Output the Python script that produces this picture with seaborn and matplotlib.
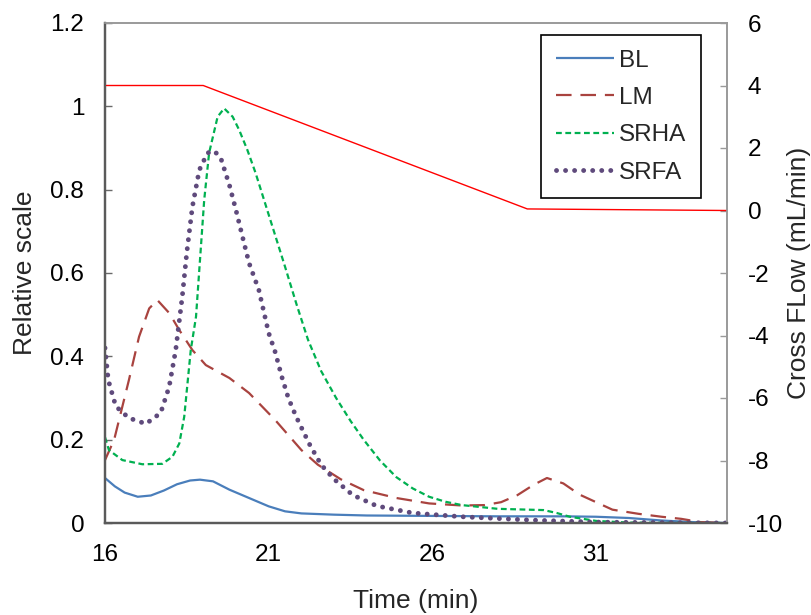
import numpy as np
import pandas as pd
import matplotlib
matplotlib.use('Agg')
import matplotlib.pyplot as plt
from matplotlib.ticker import FuncFormatter, MultipleLocator
import seaborn as sns

# BL (blue, solid)
bl_t = [16, 16.3, 16.6, 17.0, 17.4, 17.8, 18.2, 18.6, 18.9, 19.3, 19.8, 20.4,
        21.0, 21.5, 22.0, 23.0, 24.0, 26.0, 28.0, 30.0, 31.0, 32.0, 33.0, 34.0, 35.0]
bl_v = [0.108, 0.088, 0.073, 0.063, 0.066, 0.078, 0.093, 0.102, 0.104, 0.100, 0.080, 0.060,
        0.040, 0.028, 0.023, 0.020, 0.018, 0.017, 0.016, 0.016, 0.015, 0.012, 0.006, 0.002, 0.0]

# LM (brown, long dash)
lm_t = [16, 16.28, 16.73, 17.04, 17.35, 17.6, 17.96, 18.27, 18.67, 19.08, 19.8, 20.4,
        21.2, 22.0, 22.5, 23.2, 23.9, 24.9, 25.9, 26.9, 27.6, 28.1, 28.6, 29.1, 29.5,
        30.0, 30.5, 31.5, 32.3, 33.0, 33.6, 34.2, 35.0]
lm_v = [0.151, 0.2, 0.343, 0.447, 0.515, 0.535, 0.504, 0.463, 0.415, 0.379, 0.348, 0.312,
        0.247, 0.175, 0.14, 0.105, 0.079, 0.06, 0.047, 0.042, 0.043, 0.05, 0.067, 0.092, 0.108,
        0.095, 0.068, 0.032, 0.022, 0.015, 0.01, 0.002, 0.0]

# SRHA (green, short dash)
srha_t = [16, 16.12, 16.53, 17.14, 17.75, 18.06, 18.27, 18.42, 18.52, 18.62, 18.78, 18.93,
          19.03, 19.18, 19.44, 19.64, 19.9, 20.1, 20.35, 20.6, 20.8, 21.1, 21.5, 21.85, 22.2,
          22.6, 23.06, 23.5, 23.9, 24.4, 24.9, 25.4, 25.9, 26.4, 26.9, 28.0, 29.4, 29.8, 30.2,
          31.0, 32.0, 35.0]
srha_v = [0.206, 0.175, 0.151, 0.141, 0.142, 0.159, 0.191, 0.255, 0.335, 0.415, 0.495, 0.663,
          0.775, 0.888, 0.975, 0.995, 0.975, 0.943, 0.895, 0.84, 0.79, 0.715, 0.615, 0.525, 0.44,
          0.365, 0.30, 0.245, 0.20, 0.15, 0.11, 0.083, 0.063, 0.051, 0.043, 0.034, 0.031, 0.024,
          0.015, 0.005, 0.001, 0.0]

# SRFA (purple, dotted)
srfa_t = [16, 16.1, 16.33, 16.73, 17.25, 17.7, 17.96, 18.16, 18.36, 18.5, 18.67, 18.88,
          19.13, 19.34, 19.54, 19.8, 20.0, 20.2, 20.4, 20.7, 21.0, 21.2, 21.4, 21.6, 21.84,
          22.24, 22.6, 23.0, 23.57, 24.3, 25.4, 26.9, 29.0, 31.0, 35.0]
srfa_v = [0.42, 0.343, 0.28, 0.252, 0.238, 0.264, 0.327, 0.415, 0.543, 0.65, 0.759, 0.847,
          0.888, 0.893, 0.875, 0.811, 0.751, 0.687, 0.624, 0.559, 0.456, 0.41, 0.351, 0.30, 0.255,
          0.19, 0.14, 0.105, 0.067, 0.041, 0.024, 0.015, 0.007, 0.002, 0.0]

# cross flow program (right axis)
flow_t = [16, 19.0, 28.9, 35.0]
flow_v = [4.0, 4.0, 0.05, 0.0]

x_ticks = [16, 21, 26, 31]

sns.set_style('white')
plt.rcParams['font.family'] = ['Liberation Sans', 'DejaVu Sans']
plt.rcParams['axes.unicode_minus'] = False

fig = plt.figure(figsize=(8.12, 6.15), dpi=100)
ax = fig.add_axes([105 / 812, 92 / 615, 622 / 812, 500 / 615])
ax2 = ax.twinx()

series = [
    ('BL', bl_t, bl_v, '#4A7EBB', '-', 1.6, 'butt'),
    ('LM', lm_t, lm_v, '#A9433F', (0, (7, 4)), 1.6, 'butt'),
    ('SRHA', srha_t, srha_v, '#00B050', (0, (2.6, 1.6)), 1.6, 'butt'),
    ('SRFA', srfa_t, srfa_v, '#5F4A7C', (0, (0.01, 1.85)), 3.5, 'round'),
]
for name, t, v, c, ls, lw, cap in series:
    df = pd.DataFrame({'t': t, 'v': v})
    sns.lineplot(data=df, x='t', y='v', ax=ax, color=c, linestyle=ls, linewidth=lw,
                 label=name, dash_capstyle=cap, solid_capstyle='butt')

df_flow = pd.DataFrame({'t': flow_t, 'f': flow_v})
sns.lineplot(data=df_flow, x='t', y='f', ax=ax2, color='#FF0000', linewidth=1.0)

ax.set_xlim(16, 35)
ax.set_ylim(0, 1.2)
ax2.set_ylim(-10, 6)
ax.set_xticks(x_ticks)
ax.yaxis.set_major_locator(MultipleLocator(0.2))
ax2.yaxis.set_major_locator(MultipleLocator(2))
ax.yaxis.set_major_formatter(FuncFormatter(lambda v, p: '%g' % round(v, 2)))

ax.tick_params(axis='both', direction='in', length=5, width=1, colors='#6a6a6a',
               labelcolor='black', labelsize=17.5, pad=15)
ax.tick_params(axis='x', top=False)
ax2.tick_params(axis='y', direction='in', length=5, width=1, colors='#9a9a9a',
                labelcolor='black', labelsize=17.5, pad=15)

for a in (ax, ax2):
    a.spines['left'].set_color('#5a5a5a')
    a.spines['bottom'].set_color('#5a5a5a')
    a.spines['left'].set_linewidth(1.6)
    a.spines['bottom'].set_linewidth(1.6)
    a.spines['top'].set_color('#9a9a9a')
    a.spines['right'].set_color('#9a9a9a')
    a.spines['top'].set_linewidth(1.2)
    a.spines['right'].set_linewidth(1.2)

ax.set_xlabel('Time (min)', fontsize=19, labelpad=17)
ax.set_ylabel('Relative scale', fontsize=19, labelpad=9.5)
ax2.set_ylabel('Cross FLow (mL/min)', fontsize=19, labelpad=3)

ax.legend(loc='upper right', bbox_to_anchor=(0.958, 0.976), borderaxespad=0,
          fontsize=17.5, frameon=True, fancybox=False, edgecolor='black', framealpha=1,
          handlelength=2.4, handletextpad=0.2, labelspacing=0.63, borderpad=0.6)
ax.get_legend().get_frame().set_linewidth(1.2)

fig.savefig('out.png', dpi=100)
